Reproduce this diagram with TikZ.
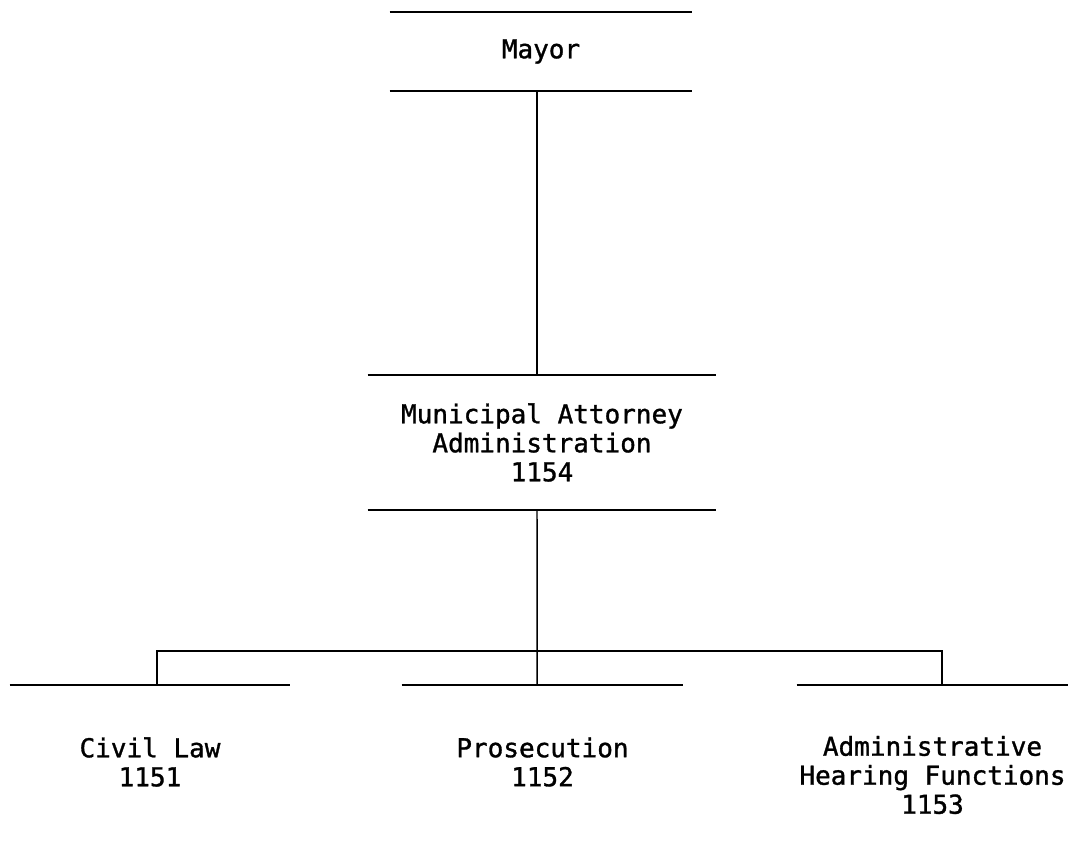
\documentclass[tikz,border=0pt]{standalone}
\usepackage{fontspec}
\newfontfamily\orgfont[FakeBold=1.2]{DejaVu Sans Mono}
\usetikzlibrary{positioning}

\tikzset{
  unit/.style={align=center, inner sep=0pt,
    font=\orgfont\fontsize{19.5}{21.75}\selectfont},
  rule/.style={line width=1.6pt},
  link/.style={line width=1.1pt}
}

\begin{document}
\begin{tikzpicture}[x=0.75pt,y=-0.75pt]
\useasboundingbox (0,0) rectangle (1070,845);
% Boxes (text only, top and bottom rules drawn below)
\node[unit, minimum width=226.5pt, minimum height=59.25pt] (mayor) at (541,51.5) {Mayor};
\node[unit, minimum width=261pt, minimum height=101.25pt] (attny) at (542,442.5)
  {Municipal Attorney\\Administration\\1154};
\node[unit, minimum width=210pt, minimum height=115.5pt] (civil) at (150,762) {Civil Law\\1151};
\node[unit, minimum width=210.75pt, minimum height=115.5pt] (pros) at (542.5,762) {Prosecution\\1152};
\node[unit, minimum width=203.25pt, minimum height=135pt] (admin) at (932.5,775)
  {Administrative\\Hearing Functions\\1153};
% Rules
\draw[rule] (mayor.north west) -- (mayor.north east);
\draw[rule] (mayor.south west) -- (mayor.south east);
\draw[rule] (attny.north west) -- (attny.north east);
\draw[rule] (attny.south west) -- (attny.south east);
\draw[rule] (civil.north west) -- (civil.north east);
\draw[rule] (pros.north west) -- (pros.north east);
\draw[rule] (admin.north west) -- (admin.north east);
% Connectors
\coordinate (bus) at (537,651);
\draw[link] ([xshift=-3pt]mayor.south) -- ([xshift=-3.75pt]attny.north);
\draw[link] ([xshift=-3.75pt]attny.south) -- ([xshift=-4pt]pros.north);
\draw[link] ([xshift=5.25pt]civil.north) |- (bus) -| ([xshift=7pt]admin.north);
\end{tikzpicture}
\end{document}
